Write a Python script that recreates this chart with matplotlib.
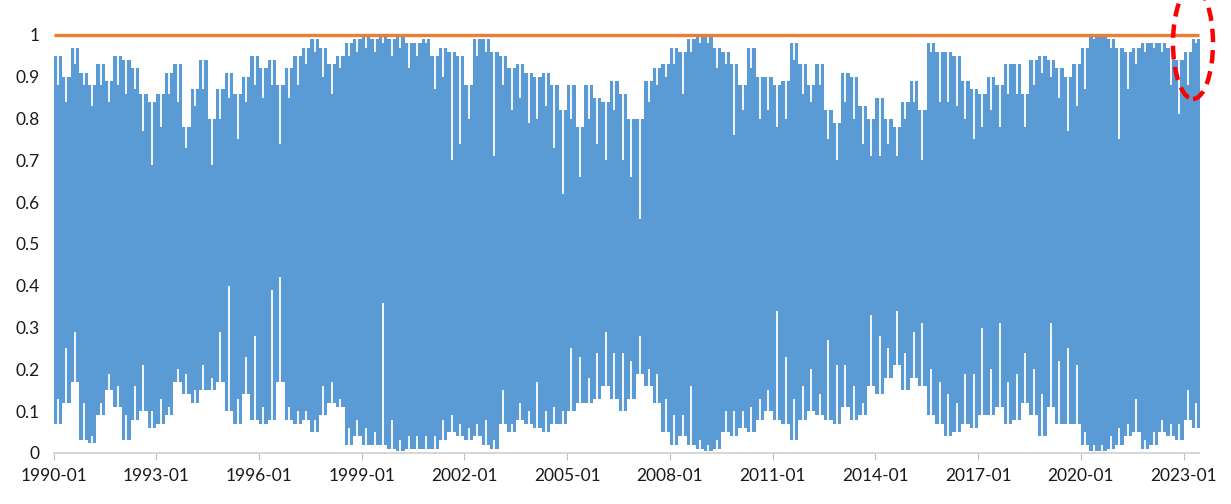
import numpy as np
import matplotlib.pyplot as plt
from matplotlib.patches import Ellipse

# quarterly readings, 1990Q1 .. 2023Q2
start_year = 1990

# typical upper edge of the band per quarter
hi = [0.95, 0.90, 0.97, 0.91,  0.88, 0.93, 0.89, 0.95,  0.94, 0.92, 0.86, 0.84,
      0.86, 0.91, 0.93, 0.78,  0.87, 0.94, 0.80, 0.87,  0.91, 0.86, 0.90, 0.95,
      0.92, 0.94, 0.88, 0.92,  0.95, 0.97, 0.99, 0.97,  0.93, 0.95, 0.98, 0.99,
      0.995, 0.99, 1.0, 0.99,  1.0, 0.98, 0.98, 0.99,  0.95, 0.97, 0.96, 0.95,
      0.88, 0.99, 0.99, 0.96,  0.95, 0.92, 0.93, 0.91,  0.90, 0.91, 0.88, 0.82,
      0.88, 0.78, 0.88, 0.85,  0.84, 0.89, 0.86, 0.80,  0.80, 0.89, 0.92, 0.93,
      0.97, 0.96, 0.99, 1.0,  0.995, 0.97, 0.96, 0.93,  0.88, 0.97, 0.90, 0.90,
      0.88, 0.89, 0.98, 0.93,  0.88, 0.93, 0.82, 0.79,  0.91, 0.90, 0.83, 0.80,
      0.85, 0.80, 0.78, 0.84,  0.89, 0.82, 0.98, 0.96,  0.96, 0.95, 0.89, 0.87,
      0.86, 0.90, 0.88, 0.93,  0.93, 0.86, 0.94, 0.95,  0.94, 0.92, 0.90, 0.93,
      0.97, 1.0, 1.0, 0.99,  0.97, 0.96, 0.97, 0.98,  0.98, 0.98, 0.97, 0.94,
      0.96, 0.99]

# deepest drop from the top within each quarter
top_dip = [0.88, 0.84, 0.93, 0.88,  0.83, 0.88, 0.84, 0.88,  0.86, 0.87, 0.77, 0.69,
           0.78, 0.86, 0.84, 0.73,  0.83, 0.87, 0.69, 0.80,  0.85, 0.75, 0.84, 0.88,
           0.85, 0.88, 0.74, 0.85,  0.88, 0.93, 0.96, 0.90,  0.86, 0.92, 0.95, 0.96,
           0.97, 0.96, 0.98, 0.95,  0.97, 0.92, 0.95, 0.98,  0.87, 0.90, 0.70, 0.74,
           0.80, 0.95, 0.96, 0.71,  0.88, 0.82, 0.85, 0.79,  0.80, 0.83, 0.73, 0.62,
           0.80, 0.66, 0.80, 0.74,  0.70, 0.82, 0.70, 0.66,  0.56, 0.84, 0.88, 0.90,
           0.93, 0.86, 0.96, 0.98,  0.98, 0.92, 0.93, 0.76,  0.82, 0.92, 0.80, 0.82,
           0.78, 0.80, 0.94, 0.86,  0.84, 0.88, 0.75, 0.70,  0.84, 0.80, 0.74, 0.71,
           0.71, 0.74, 0.71, 0.80,  0.84, 0.70, 0.96, 0.84,  0.84, 0.83, 0.80, 0.75,
           0.78, 0.82, 0.78, 0.86,  0.86, 0.78, 0.88, 0.91,  0.90, 0.85, 0.77, 0.83,
           0.87, 0.99, 1.0, 0.97,  0.75, 0.87, 0.93, 0.96,  0.97, 0.96, 0.88, 0.81,
           0.88, 0.98]

# typical lower edge of the band per quarter
lo = [0.07, 0.12, 0.17, 0.03,  0.025, 0.09, 0.15, 0.11,  0.03, 0.08, 0.10, 0.06,
      0.07, 0.09, 0.17, 0.14,  0.12, 0.15, 0.15, 0.17,  0.10, 0.07, 0.14, 0.08,
      0.07, 0.08, 0.17, 0.08,  0.07, 0.08, 0.05, 0.09,  0.12, 0.11, 0.02, 0.04,
      0.02, 0.02, 0.02, 0.01,  0.005, 0.01, 0.01, 0.01,  0.01, 0.03, 0.05, 0.04,
      0.03, 0.04, 0.02, 0.01,  0.07, 0.05, 0.08, 0.07,  0.06, 0.05, 0.07, 0.07,
      0.10, 0.12, 0.12, 0.13,  0.16, 0.13, 0.10, 0.13,  0.19, 0.16, 0.12, 0.05,
      0.02, 0.04, 0.02, 0.01,  0.005, 0.01, 0.05, 0.04,  0.06, 0.05, 0.08, 0.10,
      0.08, 0.07, 0.03, 0.08,  0.10, 0.09, 0.08, 0.07,  0.11, 0.08, 0.09, 0.16,
      0.14, 0.18, 0.21, 0.15,  0.18, 0.16, 0.09, 0.07,  0.04, 0.05, 0.07, 0.06,
      0.09, 0.09, 0.11, 0.07,  0.08, 0.12, 0.09, 0.04,  0.11, 0.07, 0.07, 0.07,
      0.02, 0.005, 0.005, 0.01,  0.02, 0.04, 0.05, 0.01,  0.02, 0.05, 0.04, 0.03,
      0.08, 0.06]

# highest rise from the bottom within each quarter
bottom_spike = [0.13, 0.25, 0.29, 0.12,  0.04, 0.12, 0.19, 0.16,  0.09, 0.16, 0.21, 0.10,
                0.13, 0.11, 0.20, 0.19,  0.15, 0.21, 0.18, 0.29,  0.40, 0.13, 0.23, 0.28,
                0.11, 0.39, 0.42, 0.11,  0.10, 0.10, 0.08, 0.16,  0.17, 0.13, 0.06, 0.08,
                0.06, 0.05, 0.36, 0.08,  0.03, 0.04, 0.04, 0.04,  0.04, 0.08, 0.09, 0.07,
                0.06, 0.07, 0.08, 0.03,  0.15, 0.07, 0.12, 0.10,  0.17, 0.10, 0.11, 0.10,
                0.25, 0.23, 0.18, 0.24,  0.29, 0.24, 0.24, 0.22,  0.28, 0.20, 0.19, 0.13,
                0.09, 0.09, 0.16, 0.03,  0.02, 0.03, 0.10, 0.10,  0.10, 0.11, 0.13, 0.15,
                0.34, 0.23, 0.13, 0.16,  0.20, 0.14, 0.27, 0.21,  0.21, 0.16, 0.12, 0.33,
                0.28, 0.25, 0.34, 0.24,  0.29, 0.31, 0.20, 0.17,  0.14, 0.12, 0.19, 0.19,
                0.30, 0.20, 0.31, 0.17,  0.19, 0.24, 0.20, 0.14,  0.31, 0.22, 0.25, 0.21,
                0.05, 0.02, 0.02, 0.04,  0.06, 0.07, 0.13, 0.03,  0.05, 0.08, 0.07, 0.07,
                0.15, 0.12]

tick_years = [1990, 1993, 1996, 1999, 2002, 2005, 2008, 2011, 2014, 2017, 2020, 2023]
tick_labels = [f"{y}-01" for y in tick_years]
y_ticks = [0, 0.1, 0.2, 0.3, 0.4, 0.5, 0.6, 0.7, 0.8, 0.9, 1]
y_labels = ["0", "0.1", "0.2", "0.3", "0.4", "0.5", "0.6", "0.7", "0.8", "0.9", "1"]
ref_level = 1.0

blue = '#5B9BD5'
orange = '#ED7D31'

n = len(hi)
x_edges = start_year + np.arange(n + 1) / 4.0
x_mid = start_year + (np.arange(n) + 0.5) / 4.0

plt.rcParams['font.family'] = ['Lato', 'DejaVu Sans']

fig = plt.figure(figsize=(12.31, 5.04), dpi=100)
ax = fig.add_axes([0.0435, 0.1012, 0.9305, 0.8294])

hi_s = np.append(hi, hi[-1])
lo_s = np.append(lo, lo[-1])
ax.fill_between(x_edges, lo_s, hi_s, step='post', color=blue, lw=0)
# narrow white gaps from top and bottom
ax.vlines(x_mid, top_dip, hi, color='white', lw=1.3)
ax.vlines(x_mid, lo, bottom_spike, color='white', lw=1.3)

ax.plot([1990, 2023.45], [ref_level, ref_level], color=orange, lw=2.4,
        clip_on=False, solid_capstyle='butt')

ax.set_xlim(1990, 2023.45)
ax.set_ylim(0, 1)
ax.set_xticks(tick_years)
ax.set_xticklabels(tick_labels, fontsize=12.5, color='#1a1a1a')
ax.set_yticks(y_ticks)
ax.set_yticklabels(y_labels, fontsize=12.5, color='#1a1a1a')
ax.tick_params(axis='x', length=5, color='#bfbfbf', pad=6)
ax.tick_params(axis='y', length=0, pad=10)
for s in ['top', 'right', 'left']:
    ax.spines[s].set_visible(False)
ax.spines['bottom'].set_color('#d0d0d0')
ax.spines['bottom'].set_linewidth(1.2)

el = Ellipse((1193 / 1231, 1 - 43 / 504), 40 / 1231, 112 / 504,
             transform=fig.transFigure, fill=False, edgecolor='#FF0000',
             lw=3.2, linestyle=(0, (3, 1.8)), clip_on=False)
fig.patches.append(el)

fig.savefig('out.png', dpi=100)
